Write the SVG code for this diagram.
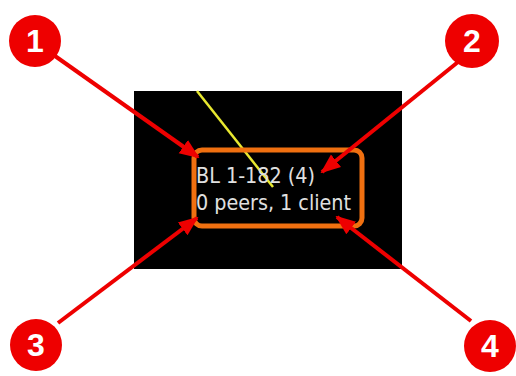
<svg xmlns="http://www.w3.org/2000/svg" width="516" height="376" viewBox="0 0 516 376">
<style>
.lbl{font-family:"DejaVu Sans Condensed","DejaVu Sans",sans-serif;font-size:22px;fill:#e0e0e0}
.num{font-family:"Liberation Sans",Arial,sans-serif;font-size:32px;font-weight:bold;fill:#ffffff;text-anchor:middle}
.conn line{stroke:#ee0000;stroke-width:4;marker-end:url(#ah)}
.badge{fill:#ee0000}
</style>
<defs>
<marker id="ah" markerUnits="userSpaceOnUse" markerWidth="20" markerHeight="20" viewBox="0 0 20 20" refX="18" refY="10" orient="auto">
<path d="M0,2 L20,10 L0,18 Z" fill="#ee0000"/>
</marker>
</defs>
<rect width="516" height="376" fill="#ffffff"/>
<g id="screen">
<rect x="134" y="91" width="268" height="178" fill="#000000"/>
<line x1="197" y1="91" x2="273" y2="187" stroke="#e8e830" stroke-width="2.5"/>
</g>
<g id="node-box">
<rect x="194" y="150" width="168" height="76" rx="8" fill="none" stroke="#f07010" stroke-width="5"/>
<text class="lbl" x="196" y="183" textLength="119" lengthAdjust="spacingAndGlyphs">BL 1-182 (4)</text>
<text class="lbl" x="196" y="210" textLength="155" lengthAdjust="spacingAndGlyphs">0 peers, 1 client</text>
</g>
<g id="connectors" class="conn">
<line x1="55" y1="56" x2="198" y2="157"/>
<line x1="458" y1="62" x2="322" y2="172"/>
<line x1="58" y1="323" x2="197" y2="218"/>
<line x1="471" y1="321" x2="337" y2="217"/>
</g>
<g id="badge-1"><circle class="badge" cx="35" cy="41" r="26"/><text class="num" x="35" y="52">1</text></g>
<g id="badge-2"><circle class="badge" cx="472" cy="41" r="27"/><text class="num" x="472" y="52">2</text></g>
<g id="badge-3"><circle class="badge" cx="36" cy="345" r="26"/><text class="num" x="36" y="356">3</text></g>
<g id="badge-4"><circle class="badge" cx="490" cy="346" r="26"/><text class="num" x="490" y="357">4</text></g>
</svg>
